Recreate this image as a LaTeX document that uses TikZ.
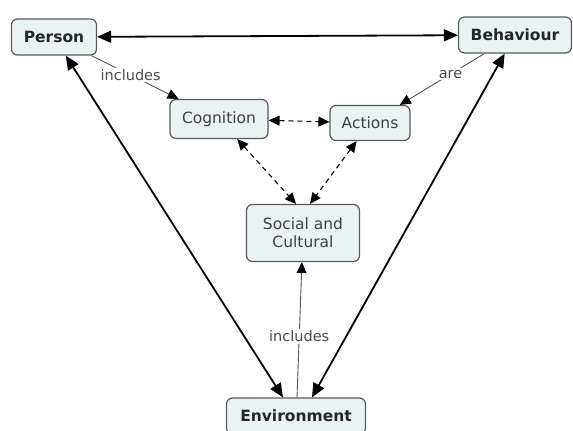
\documentclass[tikz,border=0pt]{standalone}
\usepackage{fontspec}
\setmainfont{DejaVu Sans}
\usepackage{tikz}
\usepackage{xcolor}
\usetikzlibrary{positioning, arrows.meta}
\usetikzlibrary{shapes, positioning}

\definecolor{boxfill}{HTML}{E9F3F3}
\definecolor{boxline}{HTML}{5A5A5A}
\definecolor{linkgray}{HTML}{555555}

\tikzset{
    concept/.style={rectangle, rounded corners=6pt, draw=boxline, line width=1.2pt, fill=boxfill,
        inner xsep=5pt, inner ysep=5pt, minimum height=36pt, font=\fontsize{15.5}{18}\selectfont, text=black!75, align=center},
    mainconcept/.style={concept, font=\fontsize{15.5}{18}\selectfont\bfseries, text=black!85},
    linklabel/.style={fill=white, inner sep=1.5pt, font=\fontsize{14.5}{16}\selectfont, text=black!70},
    bigtip/.style={arrows={#1}, >={Triangle[length=14pt, width=12pt]}},
    smalltip/.style={arrows={#1}, >={Triangle[length=11pt, width=10pt, color=black]}}
}

\begin{document}
\begin{tikzpicture}[x=1pt, y=-1pt]
    \useasboundingbox (0, 0) rectangle (573, 431);
    \node[mainconcept, minimum width=85pt] (person) at (54, 37) {Person};
    \node[mainconcept, minimum width=113pt] (behaviour) at (515, 35) {Behaviour};
    \node[concept, minimum width=98pt, minimum height=39pt] (cognition) at (219, 119) {Cognition};
    \node[concept, minimum width=80pt, minimum height=35pt] (actions) at (370, 123) {Actions};
    \node[concept, minimum width=113pt, minimum height=57pt, inner ysep=3pt] (social) at (303, 233) {Social and\\Cultural};
    \node[mainconcept, minimum width=139pt, minimum height=36pt] (environment) at (296, 416) {Environment};

    \draw[bigtip=<->, line width=1.8pt] (person) -- (behaviour);
    \draw[bigtip=<->, line width=1.8pt] (person) -- (environment.north west -| 283, 0);
    \draw[bigtip=<->, line width=1.8pt] (behaviour) -- (environment.north east -| 312, 0);

    \draw[smalltip=->, linkgray, line width=0.9pt] (person) -- node[linklabel, pos=0.45] {includes} (cognition);
    \draw[smalltip=->, linkgray, line width=0.9pt] (behaviour) -- node[linklabel, pos=0.4] {are} (actions);
    \draw[smalltip=->, linkgray, line width=0.9pt] (environment.north -| 297, 0) -- node[linklabel, pos=0.45] {includes} (social);

    \draw[smalltip=<->, dash pattern=on 5pt off 4pt, line width=1.1pt] (cognition) -- (actions);
    \draw[smalltip=<->, dash pattern=on 5pt off 4pt, line width=1.1pt] (cognition) -- (social.north -| 296, 0);
    \draw[smalltip=<->, dash pattern=on 5pt off 4pt, line width=1.1pt] (actions) -- (social.north -| 310, 0);
\end{tikzpicture}
\end{document}
